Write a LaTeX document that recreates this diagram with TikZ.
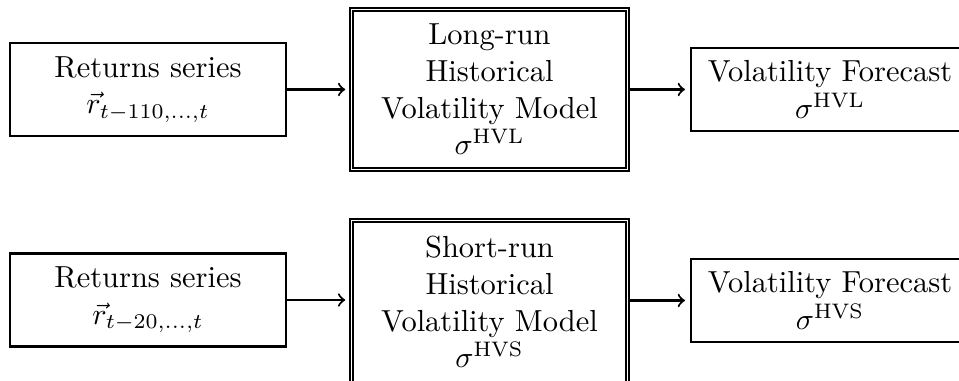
\documentclass[tikz,border=0pt]{standalone}
\begin{document}
\begin{tikzpicture}[x=0.33333pt,y=-0.33333pt,
  every node/.style={font=\fontsize{10.15}{12.2}\selectfont},
  box/.style={draw, line width=0.7pt, align=center, inner sep=0pt, outer sep=0pt},
  dbox/.style={draw, double, line width=0.55pt, double distance=0.45pt, align=center, inner sep=0pt, outer sep=0pt, minimum width=92.2pt, minimum height=53.5pt},
  inbox/.style={box, minimum width=92pt, minimum height=31pt},
  outbox/.style={box, minimum width=92.7pt, minimum height=27.7pt},
  conn/.style={->, line width=0.7pt, shorten >=2pt}]
\useasboundingbox (0,0) rectangle (959,381);
% top row
\node[inbox] (r1) at (148,89.5) {Returns series\\ $\vec{r}_{t-110,\ldots,t}$};
\node[dbox] (m1) at (489.5,89.5) {Long-run\\ Historical\\ Volatility Model\\ $\sigma^{\mathrm{HVL}}$};
\node[outbox] (f1) at (830,89.5) {Volatility Forecast\\ $\sigma^{\mathrm{HVL}}$};
\draw[conn] (r1) -- (m1);
\draw[conn] (m1) -- (f1);
% bottom row
\node[inbox] (r2) at (148,300) {Returns series\\ $\vec{r}_{t-20,\ldots,t}$};
\node[dbox, minimum height=54.5pt] (m2) at (489.5,302) {Short-run\\ Historical\\ Volatility Model\\ $\sigma^{\mathrm{HVS}}$};
\node[outbox] (f2) at (830,300.5) {Volatility Forecast\\ $\sigma^{\mathrm{HVS}}$};
\draw[conn] (r2) -- (r2 -| m2.west);
\draw[conn] (m2.east |- f2) -- (f2);
\end{tikzpicture}
\end{document}
